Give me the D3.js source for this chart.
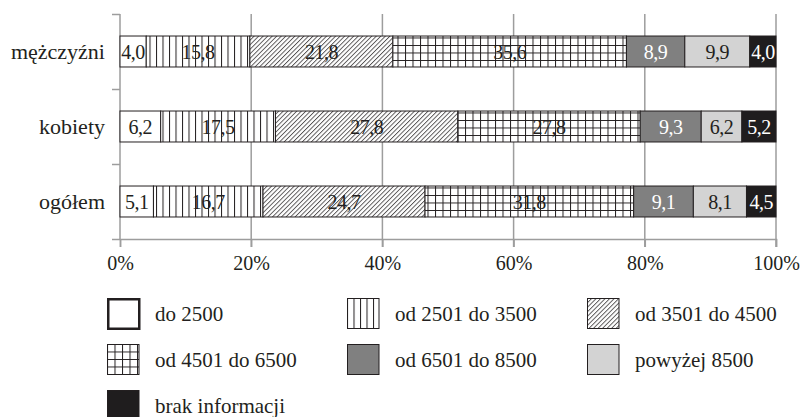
<!DOCTYPE html>
<html>
<head>
<meta charset="utf-8">
<script src="https://cdn.jsdelivr.net/npm/d3@7"></script>
<style>
  html, body { margin: 0; padding: 0; background: #fff; }
  svg { display: block; }
  text { font-family: "Liberation Serif", "DejaVu Serif", serif; fill: #231f20; }
</style>
</head>
<body>
<svg id="chart" width="801" height="417"></svg>
<script>
// Wynagrodzenia wg płci – struktura procentowa
const categories = ["mężczyźni", "kobiety", "ogółem"];
const seriesNames = ["do 2500", "od 2501 do 3500", "od 3501 do 4500", "od 4501 do 6500",
                     "od 6501 do 8500", "powyżej 8500", "brak informacji"];
const menValues   = [4.0, 15.8, 21.8, 35.6, 8.9, 9.9, 4.0];
const womenValues = [6.2, 17.5, 27.8, 27.8, 9.3, 6.2, 5.2];
const totalValues = [5.1, 16.7, 24.7, 31.8, 9.1, 8.1, 4.5];
const tickValues  = [0, 20, 40, 60, 80, 100];

const rows = [menValues, womenValues, totalValues];

// fill for each series: pattern ids or plain colours
const fills = ["#ffffff", "url(#pVert)", "url(#pDiag)", "url(#pGrid)", "#808080", "#d3d3d3", "#1f1d1e"];
const labelColors = ["#231f20", "#231f20", "#231f20", "#231f20", "#ffffff", "#231f20", "#ffffff"];

const svg = d3.select("#chart");
const defs = svg.append("defs");

// vertical lines
const pv = defs.append("pattern").attr("id", "pVert").attr("patternUnits", "userSpaceOnUse")
  .attr("width", 6.5).attr("height", 10);
pv.append("rect").attr("width", 6.5).attr("height", 10).attr("fill", "#fff");
pv.append("line").attr("x1", 0.5).attr("x2", 0.5).attr("y1", 0).attr("y2", 10)
  .attr("stroke", "#231f20").attr("stroke-width", 1);

// diagonal hatch
const pd = defs.append("pattern").attr("id", "pDiag").attr("patternUnits", "userSpaceOnUse")
  .attr("width", 3.2).attr("height", 10).attr("patternTransform", "rotate(45)");
pd.append("rect").attr("width", 3.2).attr("height", 10).attr("fill", "#fff");
pd.append("line").attr("x1", 0.5).attr("x2", 0.5).attr("y1", 0).attr("y2", 10)
  .attr("stroke", "#231f20").attr("stroke-width", 0.8);

// square grid
const pg = defs.append("pattern").attr("id", "pGrid").attr("patternUnits", "userSpaceOnUse")
  .attr("width", 7.5).attr("height", 7.5);
pg.append("rect").attr("width", 7.5).attr("height", 7.5).attr("fill", "#fff");
pg.append("path").attr("d", "M0.5,0V7.5M0,0.5H7.5")
  .attr("stroke", "#231f20").attr("stroke-width", 1).attr("fill", "none");

// scales
const x = d3.scaleLinear().domain([0, 100]).range([120, 776]);
const y = d3.scaleBand().domain(categories).range([14, 239])
  .paddingInner(0.587).paddingOuter(0.2935);
const yEdges = d3.scaleLinear().domain([0, categories.length]).range([14, 239]);

// gridlines
const gridColor = "#9d9d9d";
svg.append("g").selectAll("line").data(tickValues.slice(1)).join("line")
  .attr("x1", d => x(d)).attr("x2", d => x(d))
  .attr("y1", yEdges(0)).attr("y2", yEdges(categories.length) + 8)
  .attr("stroke", gridColor).attr("stroke-width", 1.5);

// x axis
const xAxis = svg.append("g").attr("transform", `translate(0,${yEdges(categories.length)})`)
  .call(d3.axisBottom(x).tickValues(tickValues).tickSize(8).tickPadding(9)
    .tickFormat(d => d + "%"));
xAxis.selectAll("path, line").attr("stroke", gridColor).attr("stroke-width", 1.5);
xAxis.selectAll("text").attr("font-size", 20).attr("fill", "#231f20")
  .style("font-family", "'Liberation Serif', serif");

// y axis (ticks on band edges)
const yAxis = svg.append("g").attr("transform", `translate(${x(0)},0)`)
  .call(d3.axisLeft(yEdges).ticks(categories.length).tickSize(8).tickFormat(""));
yAxis.select("path").attr("stroke", gridColor).attr("stroke-width", 1.5).attr("d",
  `M0,${yEdges(0)}V${yEdges(categories.length)}`);
yAxis.selectAll("line").attr("stroke", gridColor).attr("stroke-width", 1.5);

// category labels
svg.append("g").selectAll("text").data(categories).join("text")
  .attr("x", 105).attr("y", d => y(d) + y.bandwidth() / 2)
  .attr("dy", "0.33em").attr("text-anchor", "end").attr("font-size", 22)
  .text(d => d);

const fmt = v => d3.format(".1f")(v).replace(".", ",");

// stacked segments
rows.forEach((vals, ri) => {
  const cat = categories[ri];
  const starts = d3.cumsum([0].concat(vals.slice(0, -1)));
  const segs = vals.map((v, i) => ({ v, i, x0: starts[i], x1: starts[i] + v }));
  const g = svg.append("g");
  g.selectAll("rect").data(segs).join("rect")
    .attr("x", d => x(d.x0)).attr("width", d => x(d.x1) - x(d.x0))
    .attr("y", y(cat)).attr("height", y.bandwidth())
    .attr("fill", d => fills[d.i])
    .attr("stroke", "#231f20").attr("stroke-width", 1);
  g.selectAll("text").data(segs).join("text")
    .attr("x", d => (x(d.x0) + x(d.x1)) / 2)
    .attr("y", y(cat) + y.bandwidth() / 2)
    .attr("dy", "0.35em").attr("text-anchor", "middle").attr("font-size", 20)
    .attr("letter-spacing", "-0.5px")
    .style("fill", d => labelColors[d.i])
    .text(d => fmt(d.v));
});

// legend
const legendCols = [107, 347, 587];
const legendRows = [298, 344, 390];
const legend = svg.append("g").selectAll("g").data(seriesNames).join("g")
  .attr("transform", (d, i) => `translate(${legendCols[i % 3]},${legendRows[Math.floor(i / 3)]})`);
legend.append("rect")
  .attr("x", (d, i) => i === 0 ? 1.25 : 0.5).attr("y", (d, i) => i === 0 ? 1.25 : 0.5)
  .attr("width", (d, i) => i === 0 ? 31 : 31.5).attr("height", (d, i) => i === 0 ? 29.5 : 30)
  .attr("fill", (d, i) => fills[i])
  .attr("stroke", "#231f20").attr("stroke-width", (d, i) => i === 0 ? 2.5 : 1);
legend.append("text")
  .attr("x", 48).attr("y", 16).attr("dy", "0.35em").attr("font-size", 21)
  .text(d => d);
</script>
</body>
</html>
